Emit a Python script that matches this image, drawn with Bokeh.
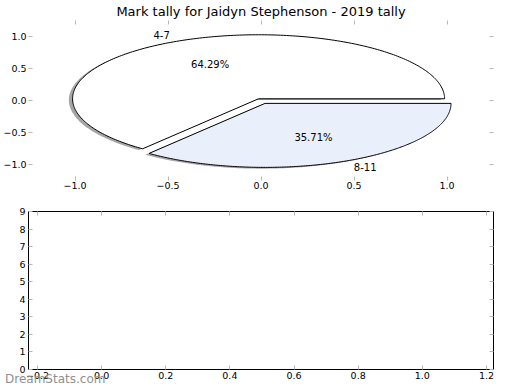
import numpy as np
from bokeh.plotting import figure
from bokeh.layouts import column
from bokeh.models import (Range1d, LinearAxis, FixedTicker, Label, Div,
                          CustomJSTickFormatter)
from bokeh.embed import file_html
from bokeh.resources import INLINE

# ---------------- data ----------------
title_text = "Mark tally for Jaidyn Stephenson - 2019 tally"
slice_labels = ["4-7", "8-11"]
slice_counts = [9, 5]
slice_colors = ["#ffffff", "#eaf0fb"]
slice_explode = [0.03, 0.05]

pie_xticks = [-1.0, -0.5, 0.0, 0.5, 1.0]
pie_yticks = [-1.0, -0.5, 0.0, 0.5, 1.0]
bottom_xticks = [-0.2, 0.0, 0.2, 0.4, 0.6, 0.8, 1.0, 1.2]
bottom_yticks = [0, 1, 2, 3, 4, 5, 6, 7, 8, 9]
watermark_text = "DreamStats.com"

FONT = "DejaVu Sans"
TICK_GRAY = "#b8b8b8"

fmt1 = CustomJSTickFormatter(code="return tick.toFixed(1).replace('-', '\u2212');")
fmt0 = CustomJSTickFormatter(code="return tick.toFixed(0);")
blank = CustomJSTickFormatter(code="return '';")


def add_axes(p, xticks, yticks, xfmt, yfmt, xstand, ystand):
    for ax in p.xaxis:
        ax.ticker = FixedTicker(ticks=xticks)
        ax.formatter = xfmt
        ax.major_label_standoff = xstand
    for ax in p.yaxis:
        ax.ticker = FixedTicker(ticks=yticks)
        ax.formatter = yfmt
        ax.major_label_standoff = ystand
    top = LinearAxis(ticker=FixedTicker(ticks=xticks), formatter=blank,
                     major_label_standoff=0)
    right = LinearAxis(ticker=FixedTicker(ticks=yticks), formatter=blank,
                       major_label_standoff=0)
    p.add_layout(top, "above")
    p.add_layout(right, "right")
    for ax in [*p.xaxis, *p.yaxis]:
        ax.axis_line_color = None
        ax.major_tick_in = 4
        ax.major_tick_out = 0
        ax.major_tick_line_color = TICK_GRAY
        ax.major_tick_line_width = 1
        ax.minor_tick_line_color = None
        ax.major_label_text_font = FONT
        ax.major_label_text_font_size = "9.5px"
        ax.major_label_text_color = "black"
    p.grid.visible = False


# ---------------- top: pie ----------------
p1 = figure(width=520, height=197, output_backend="svg", toolbar_location=None,
            x_range=Range1d(-1.25, 1.25), y_range=Range1d(-1.25, 1.25),
            min_border_left=24, min_border_right=27, min_border_top=18,
            min_border_bottom=17, title=title_text)
p1.title.text_font = FONT
p1.title.text_font_size = "13px"
p1.title.text_font_style = "normal"
p1.title.text_color = "black"
p1.title.align = "center"
p1.title.standoff = 3
p1.outline_line_color = None
add_axes(p1, pie_xticks, pie_yticks, fmt1, fmt1, 1, 2)

total = float(sum(slice_counts))
theta = 0.0
for lab, cnt, col, ex in zip(slice_labels, slice_counts, slice_colors, slice_explode):
    frac = cnt / total
    t1, t2 = theta, theta + frac * 2 * np.pi
    theta = t2
    mid = 0.5 * (t1 + t2)
    cx, cy = ex * np.cos(mid), ex * np.sin(mid)
    angs = np.linspace(t1, t2, 240)
    xs = np.concatenate([[cx], cx + np.cos(angs), [cx]])
    ys = np.concatenate([[cy], cy + np.sin(angs), [cy]])
    # shadow
    p1.patch(xs - 0.02, ys - 0.02, fill_color="#4d4d4d", fill_alpha=0.5, line_color=None)
    p1.patch(xs, ys, fill_color=col, line_color="black", line_width=1)
    lx, ly = cx + 1.1 * np.cos(mid), cy + 1.1 * np.sin(mid)
    p1.add_layout(Label(x=lx, y=ly, text=lab, text_font=FONT, text_font_size="10px",
                        text_align="left" if lx > 0 else "right", text_baseline="middle",
                        text_color="black"))
    px, py = cx + 0.6 * np.cos(mid), cy + 0.6 * np.sin(mid)
    p1.add_layout(Label(x=px, y=py, text=f"{100 * frac:.2f}%", text_font=FONT,
                        text_font_size="10px", text_align="center",
                        text_baseline="middle", text_color="black"))

# ---------------- bottom: empty axes ----------------
p2 = figure(width=520, height=193, output_backend="svg", toolbar_location=None,
            x_range=Range1d(-0.228, 1.222), y_range=Range1d(0, 9),
            min_border_left=25, min_border_right=27, min_border_top=14,
            min_border_bottom=21)
p2.outline_line_color = "black"
p2.outline_line_width = 1
add_axes(p2, bottom_xticks, bottom_yticks, fmt1, fmt0, 2, 3)
p2.scatter(x=[], y=[])

wm = Div(text=watermark_text, width=110, height=16,
         styles={"position": "absolute", "left": "0px", "top": "367px",
                 "color": "#8f8f8f", "font-family": "DejaVu Sans",
                 "font-size": "12px", "line-height": "14px", "z-index": "10"})

layout = column(p1, p2, wm, spacing=0,
                styles={"position": "absolute", "left": "0px", "top": "0px"})

open("out.html", "w").write(file_html(layout, INLINE))
